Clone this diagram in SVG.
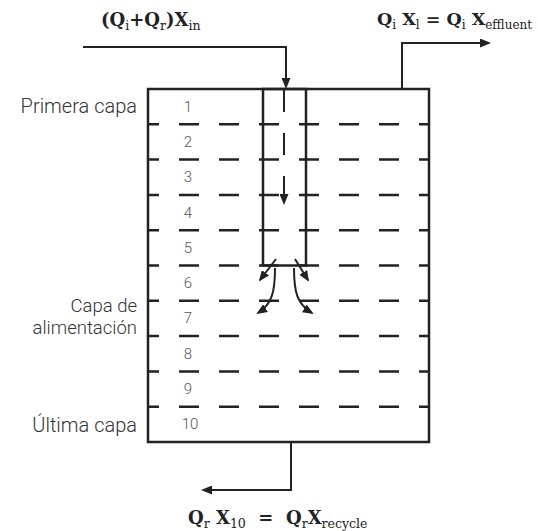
<svg xmlns="http://www.w3.org/2000/svg" width="538" height="531" viewBox="0 0 538 531">
<style>
.box{fill:none;stroke:#222;stroke-width:2.5}
.dash{stroke:#222;stroke-width:2.5;stroke-dasharray:20 20;stroke-dashoffset:9}
.ln{fill:none;stroke:#222;stroke-width:2}
.num{font-family:Roboto,"Liberation Sans",sans-serif;font-weight:300;font-size:15px;fill:#555;text-anchor:middle}
.lab{font-family:Roboto,"Liberation Sans",sans-serif;font-weight:300;font-size:20px;fill:#333;text-anchor:end}
.eq{font-family:"DejaVu Serif","Liberation Serif",serif;font-size:18px;font-weight:bold;fill:#222}
.s{font-size:12.5px;font-weight:normal}
</style>
<defs>
<marker id="ah" markerWidth="11" markerHeight="9" refX="9" refY="4.5" orient="auto" markerUnits="userSpaceOnUse"><path d="M0,0 L11,4.5 L0,9 z" fill="#222"/></marker>
</defs>
<g id="column">
<rect class="box" x="148" y="89" width="281" height="353"/>
<g id="layers">
<line class="dash" x1="148" y1="124.3" x2="429" y2="124.3"/>
<line class="dash" x1="148" y1="159.6" x2="429" y2="159.6"/>
<line class="dash" x1="148" y1="194.9" x2="429" y2="194.9"/>
<line class="dash" x1="148" y1="230.2" x2="429" y2="230.2"/>
<line class="dash" x1="148" y1="265.5" x2="429" y2="265.5"/>
<line class="dash" x1="148" y1="300.8" x2="429" y2="300.8"/>
<line class="dash" x1="148" y1="336.1" x2="429" y2="336.1"/>
<line class="dash" x1="148" y1="371.4" x2="429" y2="371.4"/>
<line class="dash" x1="148" y1="406.7" x2="429" y2="406.7"/>
</g>
<g id="numbers">
<text class="num" x="188" y="112">1</text>
<text class="num" x="188" y="147">2</text>
<text class="num" x="188" y="182">3</text>
<text class="num" x="188" y="218">4</text>
<text class="num" x="188" y="253">5</text>
<text class="num" x="188" y="288">6</text>
<text class="num" x="188" y="323">7</text>
<text class="num" x="188" y="359">8</text>
<text class="num" x="188" y="394">9</text>
<text class="num" x="190" y="429">10</text>
</g>
</g>
<g id="feed-tube">
<rect class="box" x="263" y="89" width="43" height="176.5"/>
</g>
<g id="labels">
<text class="lab" x="137" y="113">Primera capa</text>
<text class="lab" style="font-size:18.5px"><tspan x="137" y="312">Capa de</tspan><tspan x="137" y="334">alimentación</tspan></text>
<text class="lab" x="137" y="432">Última capa</text>
</g>
<g id="connectors">
<polyline class="ln" points="83,47 286,47 286,87" marker-end="url(#ah)"/>
<polyline class="ln" points="402,89 402,43 489,43" marker-end="url(#ah)"/>
<polyline class="ln" points="291,442 291,490 203,490" marker-end="url(#ah)"/>
<line class="ln" x1="284" y1="90" x2="284" y2="203" stroke-dasharray="22 21" marker-end="url(#ah)"/>
<line class="ln" x1="276" y1="259" x2="260" y2="280" marker-end="url(#ah)"/>
<line class="ln" x1="295" y1="259" x2="308" y2="280" marker-end="url(#ah)"/>
<path class="ln" d="M275,268 C275,292 272,304 258,313" marker-end="url(#ah)"/>
<path class="ln" d="M294,268 C294,292 297,304 312,313" marker-end="url(#ah)"/>
</g>
<g id="equations">
<text class="eq" x="101" y="26">(Q<tspan class="s" dy="4">i</tspan><tspan dy="-4">+Q</tspan><tspan class="s" dy="4">r</tspan><tspan dy="-4">)X</tspan><tspan class="s" dy="4">in</tspan></text>
<text class="eq" x="377" y="25" style="font-size:17.5px">Q<tspan class="s" dy="4" style="font-size:12px">i</tspan><tspan dy="-4"> X</tspan><tspan class="s" dy="4" style="font-size:12px">l</tspan><tspan dy="-4"> = Q</tspan><tspan class="s" dy="4" style="font-size:12px">i</tspan><tspan dy="-4"> X</tspan><tspan class="s" dy="4" style="font-size:12px">effluent</tspan></text>
<text class="eq" x="188" y="524" xml:space="preserve">Q<tspan class="s" dy="4">r</tspan><tspan dy="-4"> X</tspan><tspan class="s" dy="4">10</tspan><tspan dy="-4">  =  Q</tspan><tspan class="s" dy="4">r</tspan><tspan dy="-4">X</tspan><tspan class="s" dy="4">recycle</tspan></text>
</g>
</svg>
